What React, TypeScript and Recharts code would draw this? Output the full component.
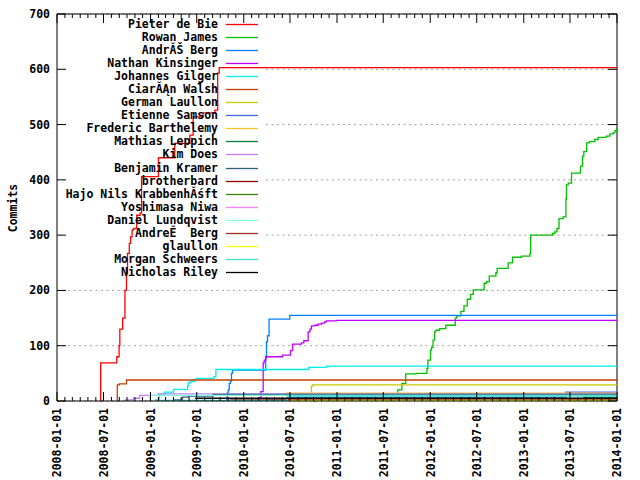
import React from 'react';
import {
  LineChart,
  Line,
  XAxis,
  YAxis,
  CartesianGrid,
  Legend,
  ReferenceLine,
  ReferenceArea,
} from 'recharts';

type Pt = [string, number];

// authors, in legend order
const authors = [
  'Pieter de Bie',
  'Rowan James',
  'Andr\u0102\u0160 Berg',
  'Nathan Kinsinger',
  'Johannes Gilger',
  'Ciar\u0102\u0104n Walsh',
  'German Laullon',
  'Etienne Samson',
  'Frederic Barthelemy',
  'Mathias Leppich',
  'Kim Does',
  'Benjamin Kramer',
  'brotherbard',
  'Hajo Nils Krabbenh\u0102\u015Bft',
  'Yoshimasa Niwa',
  'Daniel Lundqvist',
  'Andre\u011A  Berg',
  'glaullon',
  'Morgan Schweers',
  'Nicholas Riley',
];

// cumulative commits, [date, count]
const pieterDeBie: Pt[] = [
  ['2008-06-18', 0], ['2008-06-20', 69], ['2008-08-22', 80], ['2008-08-31', 100],
  ['2008-09-03', 130], ['2008-09-14', 150], ['2008-09-23', 200], ['2008-09-29', 231],
  ['2008-10-03', 267], ['2008-10-10', 285], ['2008-10-15', 297], ['2008-10-21', 309],
  ['2008-10-26', 312], ['2008-11-08', 336], ['2008-11-21', 340], ['2008-11-27', 406],
  ['2009-02-01', 440], ['2009-04-06', 466], ['2009-06-04', 481], ['2009-06-17', 514],
  ['2009-07-26', 521], ['2009-09-10', 526], ['2009-09-21', 593], ['2009-09-27', 603],
];
const rowanJames: Pt[] = [
  ['2010-07-23', 2], ['2011-08-20', 10], ['2011-08-27', 20], ['2011-09-12', 32],
  ['2011-09-27', 49], ['2011-11-07', 50], ['2011-12-19', 59], ['2011-12-23', 74],
  ['2012-01-02', 92], ['2012-01-06', 97], ['2012-01-12', 110], ['2012-01-18', 125],
  ['2012-01-23', 128], ['2012-02-07', 131], ['2012-03-02', 137], ['2012-04-08', 150],
  ['2012-04-13', 154], ['2012-04-30', 162], ['2012-05-12', 172], ['2012-05-25', 184],
  ['2012-06-07', 193], ['2012-06-17', 201], ['2012-07-30', 213], ['2012-08-08', 216],
  ['2012-08-19', 226], ['2012-09-14', 232], ['2012-09-19', 240], ['2012-11-01', 250],
  ['2012-11-18', 260], ['2012-12-23', 262], ['2013-01-25', 267], ['2013-01-28', 300],
  ['2013-04-23', 303], ['2013-05-02', 306], ['2013-05-11', 312], ['2013-05-19', 330],
  ['2013-06-04', 333], ['2013-06-15', 365], ['2013-06-17', 391], ['2013-06-24', 394],
  ['2013-07-07', 412], ['2013-08-11', 425], ['2013-08-19', 443], ['2013-08-24', 451],
  ['2013-09-04', 467], ['2013-09-14', 469], ['2013-10-06', 473], ['2013-10-19', 477],
  ['2013-11-21', 479], ['2013-12-04', 483], ['2013-12-17', 485], ['2013-12-24', 489],
  ['2013-12-30', 492],
];
const andresBerg: Pt[] = [
  ['2009-10-23', 2], ['2009-10-28', 14], ['2009-11-01', 20], ['2009-11-05', 32],
  ['2009-11-10', 36], ['2009-11-14', 50], ['2009-11-18', 56], ['2010-03-28', 77],
  ['2010-03-31', 107], ['2010-04-04', 118], ['2010-04-10', 148], ['2010-06-30', 155],
];
const nathanKinsinger: Pt[] = [
  ['2010-02-20', 2], ['2010-02-26', 5], ['2010-03-09', 17], ['2010-03-18', 69],
  ['2010-03-22', 74], ['2010-03-28', 80], ['2010-06-02', 83], ['2010-07-03', 91],
  ['2010-07-11', 103], ['2010-08-15', 105], ['2010-08-24', 109], ['2010-09-10', 125],
  ['2010-09-17', 130], ['2010-09-23', 136], ['2010-10-06', 137], ['2010-10-19', 139],
  ['2010-11-01', 141], ['2010-11-14', 143], ['2010-11-20', 145], ['2010-12-30', 146],
];
const johannesGilger: Pt[] = [
  ['2009-01-18', 2], ['2009-02-05', 11], ['2009-02-24', 16], ['2009-04-01', 21],
  ['2009-05-26', 27], ['2009-05-29', 33], ['2009-06-04', 35], ['2009-06-21', 39],
  ['2009-06-30', 41], ['2009-09-06', 44], ['2009-09-14', 57], ['2010-09-12', 61],
  ['2010-11-21', 63],
];
const ciaranWalsh: Pt[] = [
  ['2008-08-22', 0], ['2008-08-24', 29], ['2008-09-01', 31], ['2008-09-29', 38],
];
const germanLaullon: Pt[] = [['2010-06-18', 1], ['2010-09-23', 27], ['2010-09-28', 29]];
const etienneSamson: Pt[] = [['2010-06-25', 7], ['2013-06-15', 16]];
const fredericBarthelemy: Pt[] = [['2010-06-15', 14]];
const mathiasLeppich: Pt[] = [['2013-08-24', 0], ['2013-08-25', 7]];
const kimDoes: Pt[] = [
  ['2008-09-23', 2], ['2008-10-26', 5], ['2008-11-20', 10], ['2009-02-01', 13],
];
const benjaminKramer: Pt[] = [
  ['2009-03-31', 2], ['2009-05-06', 7], ['2009-05-29', 9], ['2009-09-03', 12],
];
const brotherbard: Pt[] = [['2009-10-28', 1], ['2010-04-01', 3]];
const hajoNilsKrabbenhoft: Pt[] = [['2010-10-01', 0], ['2010-10-06', 4]];
const yoshimasaNiwa: Pt[] = [['2010-02-20', 1]];
const danielLundqvist: Pt[] = [['2008-12-26', 0], ['2008-12-28', 10]];
const andreBerg: Pt[] = [['2009-11-10', 2], ['2010-06-20', 4]];
const glaullon: Pt[] = [['2010-06-28', 1]];
const morganSchweers: Pt[] = [['2009-01-25', 1], ['2010-06-20', 9]];
const nicholasRiley: Pt[] = [['2009-06-24', 5]];

const seriesValues: Pt[][] = [
  pieterDeBie, rowanJames, andresBerg, nathanKinsinger, johannesGilger,
  ciaranWalsh, germanLaullon, etienneSamson, fredericBarthelemy, mathiasLeppich,
  kimDoes, benjaminKramer, brotherbard, hajoNilsKrabbenhoft, yoshimasaNiwa,
  danielLundqvist, andreBerg, glaullon, morganSchweers, nicholasRiley,
];

const colors = [
  '#ff0000', '#00c000', '#0080ff', '#c000ff', '#00eeee',
  '#c04000', '#c8c800', '#4169e1', '#ffc020', '#008040',
  '#c080ff', '#306080', '#8b0000', '#408000', '#ff80ff',
  '#7fffd4', '#a52a2a', '#ffff00', '#40e0d0', '#000000',
];

const majorTickLabels = [
  '2008-01-01', '2008-07-01', '2009-01-01', '2009-07-01', '2010-01-01',
  '2010-07-01', '2011-01-01', '2011-07-01', '2012-01-01', '2012-07-01',
  '2013-01-01', '2013-07-01', '2014-01-01',
];
const yTicks = [0, 100, 200, 300, 400, 500, 600, 700];

const startDate = '2008-01-01';
const endDate = '2014-01-01';
const t0 = Date.parse(startDate);
const t1 = Date.parse(endDate);

// monthly minor ticks
const xTicks: number[] = [];
for (let y = 2008; y <= 2014; y++) {
  for (let m = 0; m < 12; m++) {
    const t = Date.UTC(y, m, 1);
    if (t <= t1) xTicks.push(t);
  }
}

const tables = seriesValues.map((s) => {
  const rows = s.map(([d, v]) => ({ t: Date.parse(d), v }));
  rows.push({ t: t1, v: s[s.length - 1][1] });
  return rows;
});

const FONT = '"DejaVu Sans Mono", monospace';
const PLOT_W = 560;
const PLOT_H = 387;

const isoDay = (t: number) => new Date(t).toISOString().slice(0, 10);

const XTick = (props: any) => {
  const { x, y, payload } = props;
  const label = isoDay(payload.value);
  const major = majorTickLabels.includes(label);
  const len = major ? 9 : 4;
  return (
    <g>
      <line x1={x} y1={y} x2={x} y2={y - len} stroke="#000" />
      <line x1={x} y1={y - PLOT_H} x2={x} y2={y - PLOT_H + len} stroke="#000" />
      {major && (
        <text
          x={x}
          y={y + 7}
          transform={`rotate(-90 ${x} ${y + 7})`}
          textAnchor="end"
          dy="0.38em"
          fontFamily={FONT}
          fontWeight="bold"
          fontSize={11.5}
          fill="#000"
        >
          {label}
        </text>
      )}
    </g>
  );
};

const YTick = (props: any) => {
  const { x, y, payload } = props;
  return (
    <g>
      <line x1={x} y1={y} x2={x + 9} y2={y} stroke="#000" />
      <line x1={x + PLOT_W} y1={y} x2={x + PLOT_W - 9} y2={y} stroke="#000" />
      <text
        x={x - 7}
        y={y}
        dy="0.35em"
        textAnchor="end"
        fontFamily={FONT}
        fontWeight="bold"
        fontSize={11.5}
        fill="#000"
      >
        {payload.value}
      </text>
    </g>
  );
};

const renderLegend = () => (
  <div style={{ fontFamily: FONT, fontWeight: 'bold', fontSize: 11.5, color: '#000' }}>
    {authors.map((name, i) => (
      <div key={name} style={{ display: 'flex', alignItems: 'center', height: 13.05 }}>
        <span style={{ width: 218, textAlign: 'right', whiteSpace: 'pre', lineHeight: '13px' }}>
          {name}
        </span>
        <svg width={40} height={13} style={{ display: 'block' }}>
          <line x1={8} y1={6.5} x2={40} y2={6.5} stroke={colors[i]} strokeWidth={1.3} />
        </svg>
      </div>
    ))}
  </div>
);

const renderYLabel = () => (
  <text
    x={13}
    y={208}
    transform="rotate(-90 13 208)"
    textAnchor="middle"
    dy="0.35em"
    fontFamily={FONT}
    fontWeight="bold"
    fontSize={11.5}
    fill="#000"
  >
    Commits
  </text>
);

export default function App() {
  return (
    <div style={{ position: 'absolute', left: 0, top: 0, width: 640, height: 480, background: '#fff' }}>
      <LineChart width={640} height={480} margin={{ top: 14, right: 23, bottom: 0, left: 0 }}>
        <CartesianGrid vertical={false} stroke="#a0a0a0" strokeDasharray="2 3.5" />
        <ReferenceArea
          x1={Date.parse('2008-01-03')}
          x2={Date.parse('2010-03-16')}
          y1={220}
          y2={698}
          fill="#fff"
          fillOpacity={1}
          stroke="none"
        />
        <XAxis
          dataKey="t"
          type="number"
          domain={[t0, t1]}
          allowDataOverflow
          ticks={xTicks}
          interval={0}
          height={79}
          tickSize={0}
          tickMargin={0}
          tickLine={false}
          axisLine={{ stroke: '#000' }}
          tick={<XTick />}
        />
        <YAxis
          type="number"
          domain={[0, 700]}
          ticks={yTicks}
          interval={0}
          width={57}
          tickSize={0}
          tickMargin={0}
          tickLine={false}
          axisLine={{ stroke: '#000' }}
          tick={<YTick />}
          label={renderYLabel}
        />
        <ReferenceLine y={700} stroke="#000" />
        <ReferenceLine x={t1} stroke="#000" />
        {tables.map((rows, i) => (
          <Line
            key={authors[i]}
            data={rows}
            dataKey="v"
            name={authors[i]}
            type="stepAfter"
            stroke={colors[i]}
            strokeWidth={1.3}
            dot={false}
            activeDot={false}
            isAnimationActive={false}
          />
        ))}
        <Legend
          layout="vertical"
          align="center"
          verticalAlign="middle"
          content={renderLegend}
          wrapperStyle={{ left: 0, top: 18, width: 270 }}
        />
      </LineChart>
    </div>
  );
}
